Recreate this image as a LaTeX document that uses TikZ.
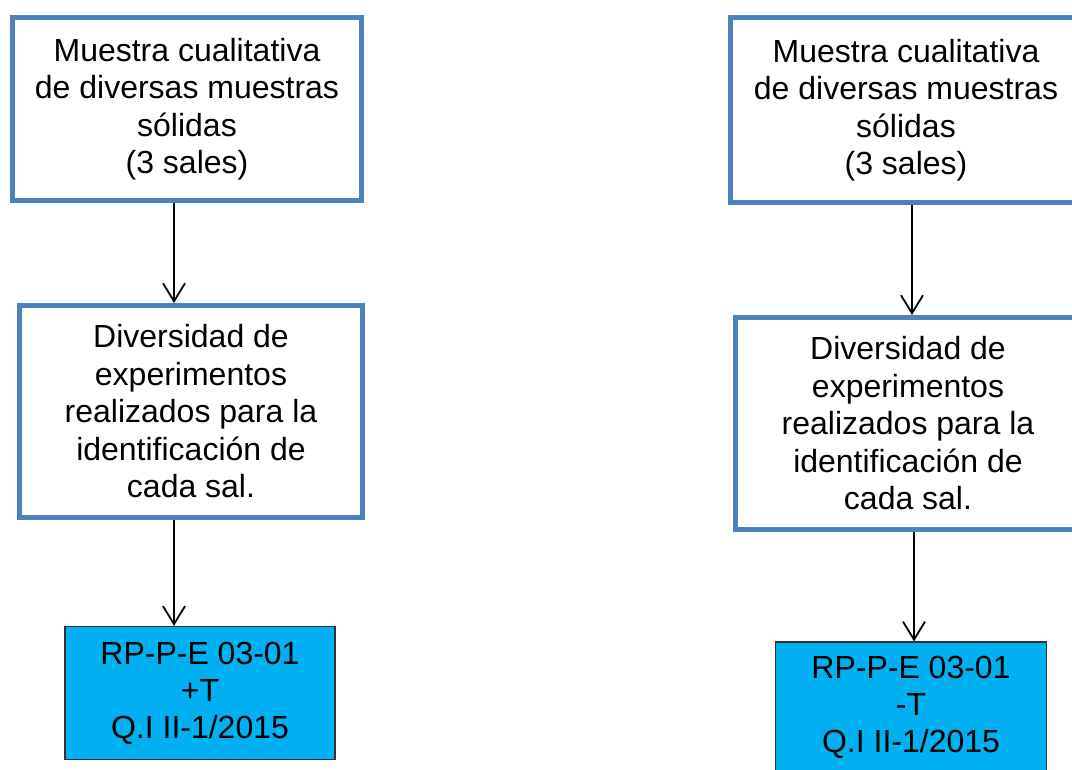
\documentclass[tikz,border=0pt]{standalone}
\usepackage{fontspec}
\setmainfont{Liberation Sans}
\usetikzlibrary{arrows.meta}
\definecolor{boxblue}{HTML}{4F81BD}
\definecolor{cyanfill}{HTML}{00B0F0}
\begin{document}
\begin{tikzpicture}[x=1pt,y=-1pt,
  bluebox/.style={draw=boxblue,line width=5pt,fill=white,rectangle,align=center,inner sep=0pt,
    font=\fontsize{32}{37.5}\selectfont},
  cyanbox/.style={draw=black!80,line width=1.3pt,fill=cyanfill,rectangle,align=center,inner sep=0pt,
    font=\fontsize{32}{37}\selectfont},
  arr/.style={line width=1.8pt,-{Straight Barb[length=18pt,width=22pt]}}]
\useasboundingbox (0,0) rectangle (1072,770);
\clip (0,0) rectangle (1072,770);
\fill[white] (0,0) rectangle (1072,770);
% left column
\node[bluebox,minimum width=349.5pt,minimum height=183pt] (a1) at (187,109)
  {Muestra cualitativa\\de diversas muestras\\sólidas\\(3 sales)};
\node[bluebox,minimum width=343pt,minimum height=212pt] (a2) at (191,411.5)
  {Diversidad de\\experimentos\\realizados para la\\identificación de\\cada sal.};
\node[cyanbox,minimum width=270pt,minimum height=133pt] (a3) at (200,693)
  {RP-P-E 03-01\\+T\\Q.I II-1/2015};
\coordinate (ax) at (174,0);
\draw[arr] (a1.south -| ax) -- (a2.north -| ax);
\draw[arr] (a2.south -| ax) -- (a3.north -| ax);
% right column
\node[bluebox,minimum width=351pt,minimum height=185pt] (b1) at (906,110)
  {Muestra cualitativa\\de diversas muestras\\sólidas\\(3 sales)};
\node[bluebox,minimum width=345pt,minimum height=212pt] (b2) at (908,423.5)
  {Diversidad de\\experimentos\\realizados para la\\identificación de\\cada sal.};
\node[cyanbox,minimum width=271.5pt,minimum height=130pt] (b3) at (911,707)
  {RP-P-E 03-01\\-T\\Q.I II-1/2015};
\coordinate (bx1) at (912,0);
\coordinate (bx2) at (914,0);
\draw[arr] (b1.south -| bx1) -- (b2.north -| bx1);
\draw[arr] (b2.south -| bx2) -- (b3.north -| bx2);
\end{tikzpicture}
\end{document}
